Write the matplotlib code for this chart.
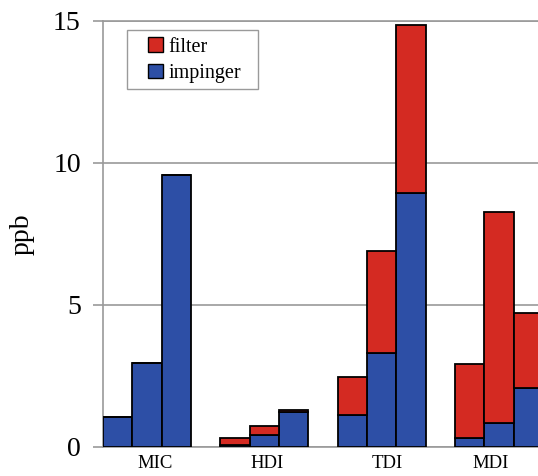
import matplotlib
matplotlib.use("Agg")
import matplotlib.pyplot as plt
import numpy as np
from matplotlib.patches import Patch, Rectangle

groups = ["MIC", "HDI", "TDI", "MDI"]
# three samples per compound, stacked: impinger (bottom) + filter (top)
impinger = [
    [1.07, 2.97, 9.58],
    [0.08, 0.42, 1.22],
    [1.13, 3.32, 8.95],
    [0.31, 0.86, 2.07],
]
filter_ = [
    [0.0, 0.0, 0.0],
    [0.23, 0.32, 0.08],
    [1.35, 3.59, 5.92],
    [2.61, 7.40, 2.64],
]
yticks = [0, 5, 10, 15]

RED = "#d42a22"
BLUE = "#2d4fa6"
GRID = "#9a9a9a"

plt.rcParams["font.family"] = ["Liberation Serif", "DejaVu Serif"]

fig = plt.figure(figsize=(5.38, 4.76), dpi=100)
ax = fig.add_axes([103 / 538, 29 / 476, 1 - 103 / 538, 426 / 476])

n_bars = 3
step = n_bars + 1
for g, name in enumerate(groups):
    x = np.arange(n_bars) + g * step
    imp = np.array(impinger[g])
    fil = np.array(filter_[g])
    ax.bar(x, imp, width=1.0, color=BLUE, edgecolor="black", linewidth=1.3, zorder=3)
    ax.bar(x, fil, bottom=imp, width=1.0, color=RED, edgecolor="black", linewidth=1.3, zorder=3)

ax.set_xlim(-0.5, 14.33)
ax.set_ylim(0, 15)
# group labels sit slightly off the middle bar in the original
label_shift = [0.27, 0.1, 0.2, -0.3]
ax.set_xticks([g * step + 1 + s for g, s in enumerate(label_shift)])
ax.set_xticklabels(groups, fontsize=13.5)
ax.tick_params(axis="x", length=0, pad=6)
ax.set_yticks(yticks)
ax.set_yticklabels([str(t) for t in yticks], fontsize=20)
ax.tick_params(axis="y", length=7, width=1.2, color=GRID, pad=9)

ax.grid(axis="y", color=GRID, linewidth=1.2, zorder=1)
ax.spines["right"].set_visible(False)
for side in ["left", "bottom", "top"]:
    ax.spines[side].set_color(GRID)
    ax.spines[side].set_linewidth(1.2)

ax.set_ylabel("ppb", fontsize=20, labelpad=13)

# legend: frame drawn by hand so the side padding can be wider than the top
ax.add_patch(Rectangle((0.0552, 0.8404), 0.301, 0.1385, transform=ax.transAxes,
                       facecolor="white", edgecolor=GRID, linewidth=1.0, zorder=4))
handles = [
    Patch(facecolor=RED, edgecolor="black", label="filter"),
    Patch(facecolor=BLUE, edgecolor="black", label="impinger"),
]
leg = ax.legend(handles=handles, loc="upper left", bbox_to_anchor=(0.1034, 0.962),
                fontsize=14.5, frameon=False, borderpad=0, borderaxespad=0,
                handlelength=0.75, handleheight=0.75, handletextpad=0.25,
                labelspacing=0.35)
leg.set_zorder(5)

fig.savefig("out.png", dpi=100)
